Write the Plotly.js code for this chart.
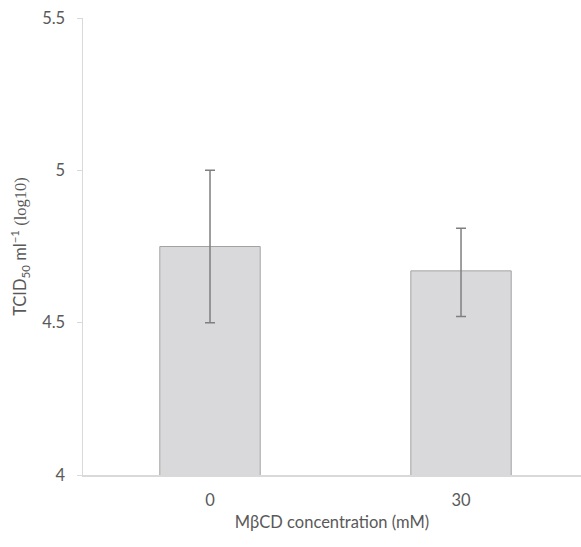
<!DOCTYPE html>
<html>
<head>
<meta charset="utf-8">
<script src="https://cdn.plot.ly/plotly-3.0.1.min.js"></script>
<style>html,body{margin:0;padding:0;background:#fff;}#chart{width:581px;height:547px;}</style>
</head>
<body>
<div id="chart"></div>
<script>
const categories = ["0", "30"];
const values = [4.75, 4.67];
const errPlus = [0.25, 0.14];
const errMinus = [0.25, 0.15];
const yTicks = [4, 4.5, 5, 5.5];
const yTickLabels = ["4", "4.5", "5", "5.5"];

const FONT = "Lato, 'Liberation Sans', sans-serif";
const trace = {
  type: "bar",
  x: [0, 1],
  y: values,
  width: 0.4,
  marker: {color: "#d9d9db", line: {color: "#a3a3a3", width: 1}},
  error_y: {type: "data", symmetric: false, array: errPlus, arrayminus: errMinus,
            color: "#7f7f7f", thickness: 1.5, width: 5},
  hoverinfo: "none"
};
const layout = {
  width: 581, height: 547,
  margin: {l: 83, r: 0, t: 18, b: 72},
  paper_bgcolor: "#fff", plot_bgcolor: "#fff",
  showlegend: false,
  font: {family: FONT, color: "#595959", size: 16.5},
  xaxis: {
    range: [-0.506, 1.478],
    tickmode: "array", tickvals: [0, 1], ticktext: categories,
    showgrid: false, zeroline: false,
    showline: true, linecolor: "#d9d9d9", linewidth: 1.5,
    ticks: "", ticklen: 0, ticklabelstandoff: 10,
    tickfont: {size: 16.5, color: "#595959"},
    title: {text: "MβCD concentration (mM)", font: {size: 16.5, color: "#595959"}, standoff: 7},
    automargin: false
  },
  yaxis: {
    range: [4, 5.5],
    tickmode: "array", tickvals: yTicks, ticktext: yTickLabels,
    showgrid: false, zeroline: false,
    showline: true, linecolor: "#d9d9d9", linewidth: 1.5,
    ticks: "outside", ticklen: 5, tickcolor: "#d9d9d9", tickwidth: 1,
    ticklabelstandoff: 8,
    tickfont: {size: 16.5, color: "#595959"},
    title: {text: "TCID<sub>50</sub> ml<sup>−1</sup> <span style='font-family:\"Liberation Serif\",serif'>(log10)</span>",
            font: {size: 16.5, color: "#595959"}, standoff: 11},
    automargin: false
  }
};
Plotly.newPlot("chart", [trace], layout, {staticPlot: true, displayModeBar: false});
</script>
</body>
</html>
